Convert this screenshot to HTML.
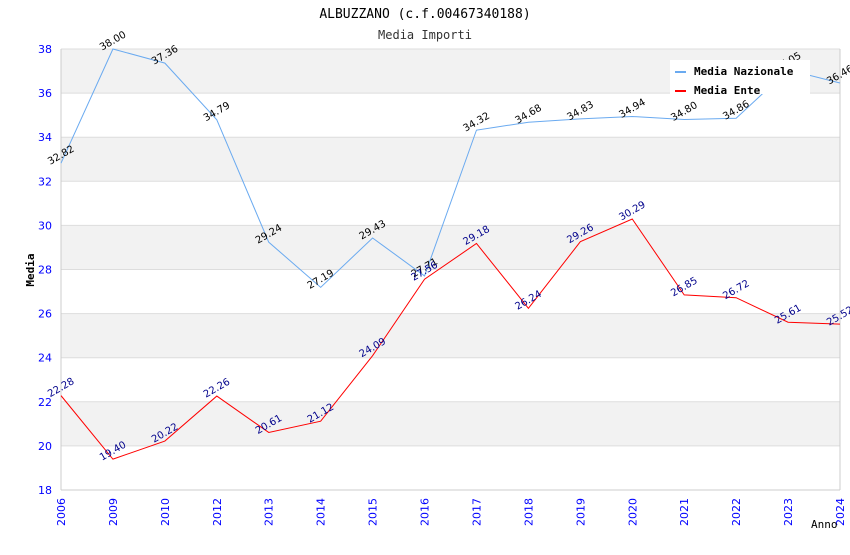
<!DOCTYPE html>
<html><head><meta charset="utf-8"><style>
body{margin:0;background:#fff;width:850px;height:550px;overflow:hidden}
text{font-family:"DejaVu Sans Mono","Liberation Mono",monospace}
.v{font-family:"DejaVu Sans","Liberation Sans",sans-serif}
</style></head><body>
<svg id="c" width="850" height="550" xmlns="http://www.w3.org/2000/svg">
<text x="425" y="18" text-anchor="middle" font-size="13" fill="#000">ALBUZZANO (c.f.00467340188)</text>
<text x="425" y="39" text-anchor="middle" font-size="12" fill="#333">Media Importi</text>
<g id="bands"></g><g id="axes"></g><g id="series"></g>
<text x="34" y="270" transform="rotate(-90 34 270)" text-anchor="middle" font-size="11" font-weight="bold">Media</text>
<text x="811" y="528" font-size="11">Anno</text>
<g>
<rect x="670" y="60" width="140" height="34" fill="#fff"/>
<line x1="675" y1="72" x2="686" y2="72" stroke="#6aaaf0" stroke-width="2"/>
<text x="694" y="75" font-size="11" font-weight="bold">Media Nazionale</text>
<line x1="675" y1="91" x2="686" y2="91" stroke="#f00" stroke-width="2"/>
<text x="694" y="94" font-size="11" font-weight="bold">Media Ente</text>
</g>
</svg>
<script>
const categories=["2006","2009","2010","2012","2013","2014","2015","2016","2017","2018","2019","2020","2021","2022","2023","2024"];
const nazionale=[32.82,38.00,37.36,34.79,29.24,27.19,29.43,27.71,34.32,34.68,34.83,34.94,34.80,34.86,37.05,36.46];
const ente=[22.28,19.40,20.22,22.26,20.61,21.12,24.09,27.56,29.18,26.24,29.26,30.29,26.85,26.72,25.61,25.52];
const yTicks=[18,20,22,24,26,28,30,32,34,36,38];
const NS="http://www.w3.org/2000/svg";
const L=61,R=840,T=49,B=490,yMin=18,yMax=38;
const x=i=>L+i*(R-L)/(categories.length-1);
const y=v=>B-(v-yMin)/(yMax-yMin)*(B-T);
function mk(t,a,p){const e=document.createElementNS(NS,t);for(const k in a)e.setAttribute(k,a[k]);p.appendChild(e);return e;}
const bands=document.getElementById('bands'),axes=document.getElementById('axes'),series=document.getElementById('series');
for(let i=0;i<yTicks.length-1;i++){
  if((yTicks.length-2-i)%2===0){const r=mk('rect',{x:L,y:y(yTicks[i+1]),width:R-L,height:y(yTicks[i])-y(yTicks[i+1]),fill:'#f2f2f2'},bands);
  
  }
}
yTicks.forEach(v=>{
  const g=mk('line',{x1:L,x2:R,y1:y(v),y2:y(v),stroke:'#ddd'},axes);
  
  
  const t=mk('text',{x:L-9,y:y(v)+4,'text-anchor':'end','font-size':11,fill:'#00f',class:'v'},axes);t.textContent=v;
  
  
});
mk('line',{x1:L,x2:L,y1:T,y2:B,stroke:'#ccc'},axes);
mk('line',{x1:R,x2:R,y1:T,y2:B,stroke:'#ccc'},axes);
mk('line',{x1:L,x2:R,y1:B,y2:B,stroke:'#ccc'},axes);
categories.forEach((c,i)=>{
  const t=mk('text',{x:x(i)+4,y:B+8,'text-anchor':'end','font-size':11,fill:'#00f',class:'v',transform:`rotate(-90 ${x(i)+4} ${B+8})`},axes);t.textContent=c;
  
  
});
function draw(vals,color,lc,name){
  const p=mk('polyline',{points:vals.map((v,i)=>x(i)+','+y(v)).join(' '),fill:'none',stroke:color,'stroke-width':1},series);
  
  
  vals.forEach((v,i)=>{
    const px=x(i),py=y(v)-8;
    const t=mk('text',{x:px,y:py+3,'text-anchor':'middle','font-size':10,fill:lc,class:'v',transform:`rotate(-30 ${px} ${py})`},series);
    t.textContent=v.toFixed(2);
    
    
  });
}
draw(nazionale,'#6aaaf0','#000','nazionale');
draw(ente,'#f00','#00008b','ente');
</script>
</body></html>
